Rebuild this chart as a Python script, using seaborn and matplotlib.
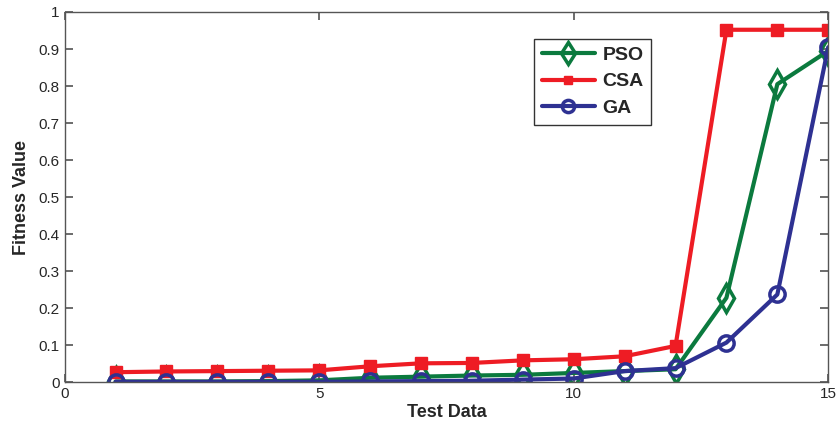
import numpy as np
import pandas as pd
import matplotlib
matplotlib.use("Agg")
import matplotlib.pyplot as plt
import seaborn as sns

# Data
test_data = list(range(1, 16))
pso = [0.002, 0.002, 0.002, 0.003, 0.005, 0.012, 0.015, 0.018, 0.020, 0.025,
       0.030, 0.035, 0.228, 0.805, 0.895]
csa = [0.027, 0.029, 0.030, 0.031, 0.032, 0.043, 0.051, 0.052, 0.059, 0.062,
       0.070, 0.098, 0.952, 0.952, 0.952]
ga = [0.001, 0.001, 0.001, 0.001, 0.001, 0.002, 0.003, 0.004, 0.007, 0.010,
      0.030, 0.038, 0.107, 0.237, 0.905]

series = {"PSO": pso, "CSA": csa, "GA": ga}
colors = {"PSO": "#0b7a3e", "CSA": "#ee1c24", "GA": "#2e3192"}
styles = {
    "PSO": dict(marker="d", markersize=14, markerfacecolor="none", markeredgewidth=2.5),
    "CSA": dict(marker="s", markersize=8, markeredgewidth=1),
    "GA": dict(marker="o", markersize=11, markerfacecolor="none", markeredgewidth=2.5),
}

df = pd.DataFrame([
    {"Test Data": x, "Fitness Value": v, "Method": name}
    for name, vals in series.items() for x, v in zip(test_data, vals)
])

sns.set_style("ticks", {"xtick.direction": "in", "ytick.direction": "in"})
plt.rcParams["font.family"] = ["Liberation Sans", "DejaVu Sans"]
plt.rcParams["xtick.top"] = True
plt.rcParams["ytick.right"] = True

fig = plt.figure(figsize=(8.4, 4.28), dpi=100)
ax = fig.add_axes([0.077, 0.107, 0.909, 0.865])

for name in series:
    sub = df[df["Method"] == name]
    sns.lineplot(data=sub, x="Test Data", y="Fitness Value", ax=ax,
                 color=colors[name], linewidth=3, label=name,
                 markeredgecolor=colors[name], **styles[name])

ax.set_xlim(0, 15)
ax.set_ylim(0, 1)
ax.set_xticks([0, 5, 10, 15])
ax.set_yticks(np.round(np.arange(0, 1.01, 0.1), 1))
ax.set_yticklabels(["0"] + [f"{v:.1f}" for v in np.arange(0.1, 0.95, 0.1)] + ["1"])
ax.tick_params(direction="in", length=6, width=1.1, top=True, right=True,
               bottom=True, left=True, labelsize=11, color="#444444")
for s in ax.spines.values():
    s.set_color("#555555")
    s.set_linewidth(1)

ax.set_xlabel("Test Data", fontsize=13, fontweight="bold", labelpad=2)
ax.set_ylabel("Fitness Value", fontsize=13, fontweight="bold", labelpad=6)

leg = ax.legend(loc="upper left", bbox_to_anchor=(0.615, 0.928), fancybox=False,
                edgecolor="#333333", framealpha=1, handlelength=2.7,
                handletextpad=0.4, markerscale=0.8, borderaxespad=0,
                labelspacing=0.45, prop={"weight": "bold", "size": 14})
leg.get_frame().set_linewidth(1)

fig.savefig("out.png", dpi=100)
